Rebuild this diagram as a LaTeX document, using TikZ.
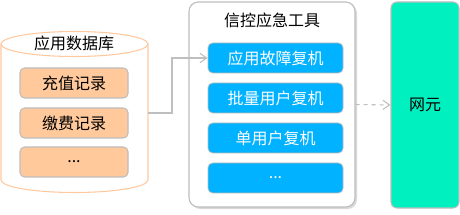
\documentclass[tikz,border=0pt]{standalone}
\usepackage{fontspec}
\usetikzlibrary{arrows.meta,shadows}
\newfontfamily\cjkfont{Noto Sans CJK SC}
\definecolor{dbrim}{HTML}{FFC9A0}
\definecolor{recordfill}{HTML}{FFC99B}
\definecolor{toolfill}{HTML}{00B2FF}
\definecolor{nefill}{HTML}{00F0C0}
\definecolor{edgegray}{HTML}{BDBDBD}
\definecolor{linkgray}{HTML}{BFBFBF}

\begin{document}
\begin{tikzpicture}[
  x=0.75pt,
  y=0.75pt,
  every node/.style={font=\cjkfont\fontsize{12}{14}\selectfont, inner sep=1pt},
  record/.style={draw=edgegray, line width=0.8pt, fill=recordfill,
    rounded corners=3.5pt, minimum width=81pt, minimum height=22.5pt},
  tool/.style={draw=edgegray, line width=0.6pt, fill=toolfill, text=white,
    rounded corners=3.5pt, minimum width=101.25pt, minimum height=22.5pt},
  panel/.style={draw=edgegray, line width=0.8pt, fill=white,
    rounded corners=7pt, minimum width=124.5pt, minimum height=153.75pt,
    drop shadow={shadow xshift=1.5pt, shadow yshift=-1.5pt, opacity=0.3}},
  netbox/.style={draw=edgegray, line width=0.8pt, fill=nefill,
    rounded corners=4.5pt, minimum width=51pt, minimum height=154.5pt},
  link/.style={linkgray, line width=0.8pt, -{Straight Barb[length=5pt, width=7pt]}}
]
  \useasboundingbox (0,0) rectangle (460,214);

  % ---- the application database ----------------------------------------
  \draw[dbrim, line width=0.8pt, fill=white]
    (1,170) -- (1,34) arc[start angle=180, end angle=360, x radius=73.5, y radius=12.5]
    -- (148,170);
  \draw[dbrim, line width=0.8pt, fill=white] (74.5,170) ellipse[x radius=73.5, y radius=12.5];
  \node (dbtitle) at (74,171) {应用数据库};
  \coordinate (dbout) at (148,101);

  \node[record] (recharge) at (74,131) {充值记录};
  \node[record] (payment)  at (74,91)  {缴费记录};
  \node[record] (morerec)  at (74,52)  {...};

  % ---- the emergency tool panel ------------------------------------------
  \node[panel] (toolkit) at (272,109.5) {};
  \node (tooltitle) at (272,194) {信控应急工具};

  \node[tool] (appfault)  at (275.5,156) {应用故障复机};
  \node[tool] (batchuser) at (275.5,116) {批量用户复机};
  \node[tool] (singleuser) at (275.5,76) {单用户复机};
  \node[tool] (moretool)  at (275.5,36)  {...};

  % ---- the network element -----------------------------------------------
  \node[netbox] (ne) at (425,109) {网元};

  % ---- connectors ----------------------------------------------------------
  \draw[link] (dbout) -- ++(24,0) |- (appfault.west);
  \draw[link, dashed] (toolkit.east) -- (ne.west);
\end{tikzpicture}
\end{document}
